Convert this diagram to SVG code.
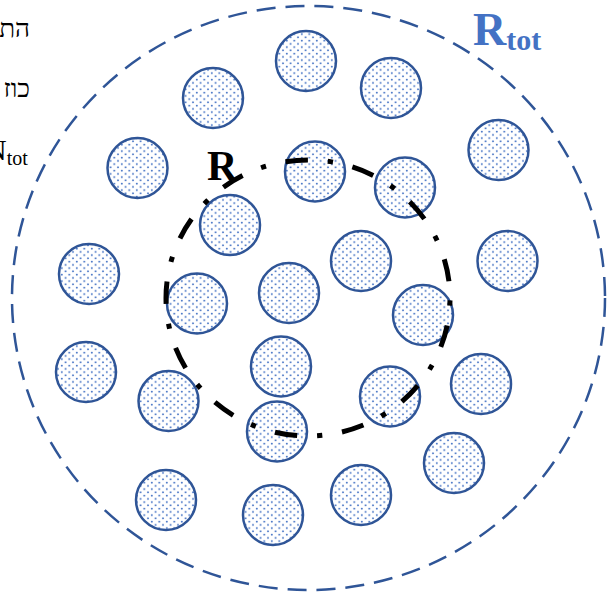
<svg xmlns="http://www.w3.org/2000/svg" width="615" height="596" viewBox="0 0 615 596">
<defs>
<pattern id="dots" patternUnits="userSpaceOnUse" width="7.5" height="6.5">
<rect width="7.5" height="6.5" fill="#ffffff"/>
<circle cx="1.8" cy="1.6" r="1.0" fill="#4472C4"/>
<circle cx="5.55" cy="4.85" r="1.0" fill="#4472C4"/>
</pattern>
</defs>
<style>
.p{fill:url(#dots);stroke:#2F5597;stroke-width:2.5}
.heb{font-family:"Liberation Serif","DejaVu Serif",serif;font-size:26px;fill:#000}
.lbl{font-family:"Liberation Serif","Times New Roman",serif;font-weight:bold}
</style>
<rect width="615" height="596" fill="#ffffff"/>
<g id="side-text">
<text class="heb" x="30" y="37" text-anchor="start" direction="rtl">הת</text>
<text class="heb" x="30" y="97" text-anchor="start" direction="rtl">כוז</text>
<text x="-15" y="160" font-family="Liberation Serif, serif" font-size="30" fill="#000">N<tspan font-size="20" dy="5">tot</tspan></text>
</g>
<g id="outer-region">
<ellipse cx="308.5" cy="298" rx="296.5" ry="292" fill="none" stroke="#2F5597" stroke-width="2.5" stroke-dasharray="19 10"/>
</g>
<g id="particles">
<g id="p1"><circle class="p" cx="306" cy="61" r="30"/></g>
<g id="p2"><circle class="p" cx="213" cy="98" r="30"/></g>
<g id="p3"><circle class="p" cx="391" cy="88" r="30"/></g>
<g id="p4"><circle class="p" cx="137.5" cy="168" r="30"/></g>
<g id="p5"><circle class="p" cx="315" cy="171.5" r="30"/></g>
<g id="p6"><circle class="p" cx="405" cy="187.5" r="30"/></g>
<g id="p7"><circle class="p" cx="498.5" cy="150" r="30"/></g>
<g id="p8"><circle class="p" cx="230" cy="225" r="30"/></g>
<g id="p9"><circle class="p" cx="361" cy="261" r="30"/></g>
<g id="p10"><circle class="p" cx="507.5" cy="261" r="30"/></g>
<g id="p11"><circle class="p" cx="89" cy="274" r="30"/></g>
<g id="p12"><circle class="p" cx="289" cy="293" r="30"/></g>
<g id="p13"><circle class="p" cx="197" cy="303.5" r="30"/></g>
<g id="p14"><circle class="p" cx="423" cy="315" r="30"/></g>
<g id="p15"><circle class="p" cx="86" cy="372" r="30"/></g>
<g id="p16"><circle class="p" cx="281" cy="366.5" r="30"/></g>
<g id="p17"><circle class="p" cx="390" cy="396.5" r="30"/></g>
<g id="p18"><circle class="p" cx="481" cy="384" r="30"/></g>
<g id="p19"><circle class="p" cx="168.5" cy="401" r="30"/></g>
<g id="p20"><circle class="p" cx="277" cy="431.5" r="30"/></g>
<g id="p21"><circle class="p" cx="454" cy="463" r="30"/></g>
<g id="p22"><circle class="p" cx="166" cy="500" r="30"/></g>
<g id="p23"><circle class="p" cx="273" cy="515" r="30"/></g>
<g id="p24"><circle class="p" cx="361" cy="495" r="30"/></g>
</g>
<g id="inner-region">
<ellipse cx="308" cy="298" rx="142" ry="138" fill="none" stroke="#000" stroke-width="5" stroke-dasharray="22.5 20 5.2 20" stroke-dashoffset="40.1"/>
</g>
<g id="connectors"></g>
<g id="labels">
<text class="lbl" x="207" y="180" font-size="42" fill="#000">R</text>
<text class="lbl" x="473" y="45" font-size="46" fill="#4472C4">R<tspan font-size="30" dy="5">tot</tspan></text>
</g>
</svg>
